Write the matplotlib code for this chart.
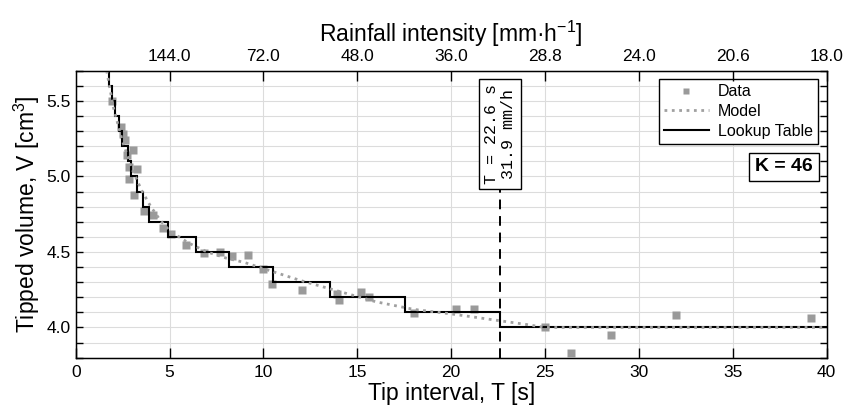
import matplotlib
matplotlib.use('agg')
import numpy as np
import matplotlib.pyplot as plt
from matplotlib.ticker import FuncFormatter

plt.rcParams['font.family'] = ['Liberation Sans', 'DejaVu Sans']
plt.rcParams['mathtext.fontset'] = 'custom'
plt.rcParams['mathtext.rm'] = 'Liberation Sans'
plt.rcParams['mathtext.it'] = 'Liberation Sans'

# measured tips: interval T [s] and tipped volume V [cm3]
data_T = [1.91, 2.40, 2.50, 2.65, 3.06, 2.75, 2.82, 3.24, 2.82, 3.13,
          3.66, 4.10, 4.65, 5.10, 5.85, 6.82, 7.70, 8.33, 9.18, 9.98,
          10.48, 12.05, 13.90, 14.02, 15.22, 15.60, 18.04, 20.23, 21.20,
          24.98, 26.39, 28.52, 32.00, 39.17]
data_V = [5.50, 5.33, 5.28, 5.24, 5.175, 5.14, 5.065, 5.05, 4.98, 4.88,
          4.77, 4.745, 4.66, 4.62, 4.545, 4.49, 4.50, 4.47, 4.48, 4.39,
          4.29, 4.245, 4.225, 4.185, 4.235, 4.20, 4.095, 4.12, 4.12,
          4.00, 3.83, 3.95, 4.08, 4.066]

# model curve
model_T = [1.65, 2.0, 2.5, 3.0, 3.5, 4.0, 4.5, 5.0, 6.0, 7.0, 8.0, 9.0,
           10.0, 12.0, 14.0, 16.0, 18.0, 20.0, 22.0, 24.0, 25.0, 40.0]
model_V = [5.70, 5.46, 5.23, 5.05, 4.91, 4.80, 4.71, 4.64, 4.56, 4.50,
           4.46, 4.43, 4.39, 4.31, 4.24, 4.17, 4.12, 4.09, 4.055, 4.02,
           4.00, 4.00]

# lookup table: step edges [s] and volume levels [cm3]
lut_edges = [1.60, 1.76, 1.95, 2.11, 2.30, 2.46, 2.78, 2.97, 3.29, 3.61,
             3.88, 4.90, 6.39, 8.16, 10.53, 13.56, 17.54, 22.6, 40.0]
lut_levels = [5.8, 5.6, 5.5, 5.4, 5.3, 5.2, 5.1, 5.0, 4.9, 4.8, 4.7, 4.6,
              4.5, 4.4, 4.3, 4.2, 4.1, 4.0]

T_cut = 22.6
I_cut = 31.9
K = 46

x_ticks = [0, 5, 10, 15, 20, 25, 30, 35, 40]
top_ticks = [5, 10, 15, 20, 25, 30, 35, 40]

fig = plt.figure(figsize=(8.45, 4.12), dpi=100)
ax = fig.add_axes([0.0896, 0.1318, 0.8887, 0.6966])

ax.plot(data_T, data_V, 's', color='#9a9a9a', ms=6, mec='none', label='Data', zorder=3)
ax.plot(model_T, model_V, ':', color='#a0a0a0', lw=2.0, label='Model', zorder=6)
ax.stairs(lut_levels, lut_edges, baseline=None, color='black', lw=1.5,
          label='Lookup Table', zorder=5)

# threshold line and its label
ax.plot([T_cut, T_cut], [3.8, 4.91], color='black', lw=1.4, ls=(0, (5, 3.5)), zorder=2)
ax.text(T_cut, 5.28, 'T = %.1f s\n%.1f mm/h' % (T_cut, I_cut), rotation=90,
        ha='center', va='center', family='Liberation Mono', fontsize=12,
        linespacing=1.2,
        bbox=dict(boxstyle='square,pad=0.3', fc='white', ec='black', lw=1))

ax.text(0.9815, 0.665, 'K = %d' % K, transform=ax.transAxes, ha='right', va='center',
        fontsize=14, fontweight='bold',
        bbox=dict(boxstyle='square,pad=0.3', fc='white', ec='black', lw=1))

ax.set_xlim(0, 40)
ax.set_ylim(3.8, 5.7)
ax.set_xticks(x_ticks)
ax.set_yticks(np.round(np.arange(3.8, 5.71, 0.1), 1))
ax.yaxis.set_major_formatter(FuncFormatter(
    lambda v, p: '%.1f' % v if abs(v * 2 - round(v * 2)) < 1e-6 else ''))
ax.grid(True, color='#dcdcdc', lw=0.8)
ax.set_axisbelow(True)
ax.tick_params(direction='in', labelsize=12.5, right=True, length=5, width=1)
ax.tick_params(axis='x', length=7, pad=5)
for s in ax.spines.values():
    s.set_linewidth(1)

ax.set_xlabel('Tip interval, T [s]', fontsize=16.5, labelpad=2)
ax.set_ylabel('Tipped volume, V [cm$^3$]', fontsize=16.5, labelpad=3)

ax2 = ax.twiny()
ax2.set_xlim(0, 40)
ax2.set_xticks(top_ticks)
ax2.set_xticklabels(['%.1f' % (720.0 / t) for t in top_ticks])
ax2.tick_params(direction='in', labelsize=12.5, length=7, width=1, pad=5)
ax2.set_xlabel('Rainfall intensity [mm\u00b7h$^{-1}$]', fontsize=16.5, labelpad=5)

leg = ax.legend(loc='upper right', fontsize=11.5, fancybox=False, framealpha=1,
                edgecolor='black', borderaxespad=0.55, handlelength=2.8,
                handletextpad=0.6, borderpad=0.3, labelspacing=0.3, markerscale=0.8)
leg.set_zorder(10)
leg.get_frame().set_linewidth(1)

plt.savefig('out.png', dpi=100)
